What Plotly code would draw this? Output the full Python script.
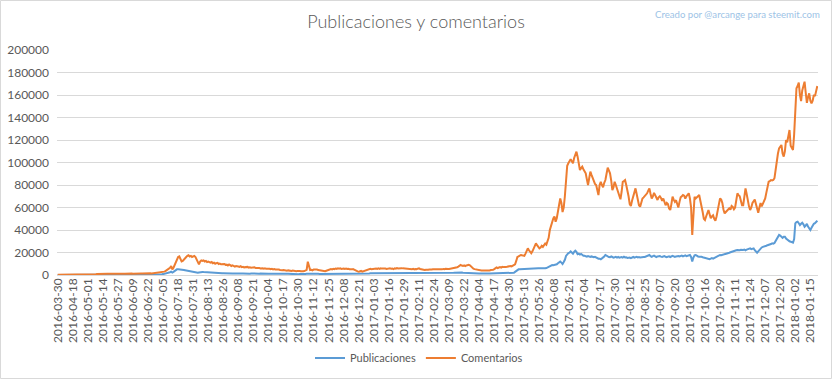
import pandas as pd
import plotly.graph_objects as go

# Category dates (Excel text axis: 2016-03-30, then daily from 2016-04-06)
dates = ["2016-03-30"] + [d.strftime("%Y-%m-%d") for d in pd.date_range("2016-04-06", "2018-01-21")]

tick_labels = [
    "2016-03-30", "2016-04-18", "2016-05-01", "2016-05-14", "2016-05-27", "2016-06-09",
    "2016-06-22", "2016-07-05", "2016-07-18", "2016-07-31", "2016-08-13", "2016-08-26",
    "2016-09-08", "2016-09-21", "2016-10-04", "2016-10-17", "2016-10-30", "2016-11-12",
    "2016-11-25", "2016-12-08", "2016-12-21", "2017-01-03", "2017-01-16", "2017-01-29",
    "2017-02-11", "2017-02-24", "2017-03-09", "2017-03-22", "2017-04-04", "2017-04-17",
    "2017-04-30", "2017-05-13", "2017-05-26", "2017-06-08", "2017-06-21", "2017-07-04",
    "2017-07-17", "2017-07-30", "2017-08-12", "2017-08-25", "2017-09-07", "2017-09-20",
    "2017-10-03", "2017-10-16", "2017-10-29", "2017-11-11", "2017-11-24", "2017-12-07",
    "2017-12-20", "2018-01-02", "2018-01-15",
]

# Comentarios per day (thousands)
comentarios_k = [
    0.2,0.2,0.3,0.2,0.3,0.3,0.2,0.3,0.3,0.4,0.3,0.3,0.4,
    0.4,0.5,0.4,0.5,0.5,0.6,0.5,0.5,0.6,0.5,0.6,0.6,0.5,
    0.6,0.6,0.7,0.6,0.7,0.7,0.8,0.7,0.9,1.0,0.9,1.0,1.0,
    1.0,1.1,1.0,1.1,1.2,1.1,1.0,1.1,1.2,1.1,1.2,1.1,1.2,
    1.1,1.2,1.2,1.1,1.3,1.2,1.2,1.3,1.2,1.3,1.2,1.3,1.3,
    1.2,1.3,1.3,1.2,1.4,1.3,1.3,1.4,1.3,1.4,1.3,1.4,1.4,
    1.3,1.4,1.5,1.4,1.5,1.6,1.5,1.6,1.8,1.9,2.0,2.2,2.4,
    2.5,3.0,3.5,4.2,5.0,5.5,6.5,8.0,5.0,6.5,9.0,12.5,15.0,
    16.0,16.5,14.5,12.0,12.5,14.0,15.0,16.0,17.0,17.5,16.5,17.0,16.0,
    16.5,17.0,16.0,14.0,12.0,9.5,12.0,13.0,12.5,13.0,12.0,12.5,11.5,
    12.0,11.5,11.0,11.5,10.5,11.0,10.0,10.5,10.8,9.8,10.2,9.5,9.8,
    9.5,9.8,9.0,9.2,8.5,9.3,8.8,8.0,8.5,7.8,7.5,8.0,7.4,
    7.5,7.2,7.8,7.0,7.3,6.8,7.1,6.9,7.2,6.6,6.9,6.5,6.7,
    6.5,6.8,6.2,6.4,6.0,6.3,5.8,6.1,5.9,5.6,5.9,5.5,5.7,
    5.4,5.6,5.2,5.5,5.0,5.3,4.9,5.1,4.7,4.9,4.5,4.7,4.3,
    4.4,4.0,4.2,3.8,4.1,3.7,3.9,3.6,3.9,3.5,3.8,3.4,3.6,
    3.2,3.5,3.3,3.6,3.4,3.5,3.7,4.5,11.8,7.0,4.4,4.6,4.2,
    4.8,5.0,4.6,4.9,4.4,4.2,3.8,4.0,3.5,3.2,3.4,3.8,4.2,
    4.6,5.0,5.3,5.0,5.5,5.2,5.8,5.5,6.0,5.6,5.9,5.4,5.7,
    5.8,5.4,5.7,5.3,5.6,5.1,5.4,5.0,5.2,4.6,4.0,3.5,3.2,
    3.0,3.2,3.6,3.0,3.4,4.2,4.6,5.0,5.3,5.1,5.5,5.2,5.4,
    5.6,5.3,5.8,5.4,5.9,5.5,6.0,5.7,5.9,5.5,5.8,5.4,5.7,
    5.6,5.9,5.5,5.8,5.3,5.9,5.6,6.2,5.8,6.0,5.7,6.1,5.9,
    5.8,5.5,5.9,5.4,5.7,5.3,5.6,5.2,5.5,5.0,5.4,5.1,5.6,
    5.9,5.4,5.0,4.6,4.8,4.4,4.7,4.4,4.6,4.9,4.5,4.8,5.0,
    5.0,4.7,5.1,4.8,5.2,4.9,5.3,5.0,5.4,5.1,5.5,5.2,5.3,
    5.3,5.5,5.4,5.8,6.0,6.3,6.5,6.9,7.4,8.2,8.9,8.4,8.0,
    8.6,8.0,8.5,8.8,9.0,8.6,7.4,6.2,5.6,5.2,4.9,4.7,4.5,
    4.4,4.2,4.0,3.9,4.1,3.8,3.9,4.0,3.8,4.1,4.4,4.2,4.6,
    5.2,5.8,6.8,6.2,6.5,7.0,6.6,7.2,7.0,7.4,7.1,7.3,7.6,
    7.8,8.0,7.6,8.2,8.9,9.5,12.5,16.0,16.5,17.0,17.8,17.5,17.0,
    17.0,19.0,22.0,23.7,22.0,20.5,19.3,21.0,24.0,26.0,28.1,26.5,24.5,
    23.7,24.5,26.0,25.0,26.7,28.0,27.0,30.0,33.0,40.0,44.0,47.0,50.3,
    52.0,47.4,50.5,58.0,62.2,68.0,64.0,56.0,60.0,70.0,82.0,97.0,99.3,
    100.7,103.0,101.0,99.3,104.0,108.0,109.6,105.2,100.0,93.3,95.0,96.3,94.0,
    92.0,90.4,85.0,80.0,86.0,91.9,89.0,86.0,84.0,81.0,80.0,75.0,71.1,
    80.0,82.9,80.0,78.0,82.0,84.4,90.0,95.4,93.0,90.4,84.0,75.5,78.0,
    82.9,80.0,77.0,72.0,69.0,67.3,74.0,82.9,83.5,84.4,80.0,76.0,70.0,
    63.0,61.3,66.0,69.6,73.0,77.0,72.0,66.0,62.0,60.7,64.0,68.0,69.0,
    70.0,71.0,72.6,75.0,77.0,72.0,68.0,70.0,73.0,71.0,68.0,66.7,69.0,
    70.0,68.5,66.0,68.0,65.0,62.0,64.0,63.0,59.0,57.8,63.0,69.6,67.0,
    65.0,66.5,62.0,60.0,65.0,69.0,70.0,71.1,70.5,68.0,70.0,71.5,72.6,
    68.0,60.0,35.6,60.0,69.6,68.1,69.0,70.5,71.1,66.0,62.2,56.0,50.0,
    48.9,52.0,55.0,57.8,54.0,50.4,52.0,53.0,50.0,48.3,52.0,57.8,64.0,
    68.1,67.0,64.0,58.0,54.8,56.0,57.0,57.5,59.3,58.0,61.3,60.5,58.5,
    60.0,68.0,72.6,71.0,70.0,66.0,62.0,62.0,70.0,77.0,72.0,65.0,61.0,
    57.8,60.0,64.0,66.0,67.0,63.0,58.0,55.4,60.0,64.0,61.0,64.0,66.0,
    68.0,73.2,78.0,82.9,83.5,84.4,84.0,84.4,86.0,94.0,102.2,108.0,112.6,
    114.0,115.6,108.0,105.2,110.0,120.0,118.0,126.0,128.9,115.0,112.6,111.1,125.0,
    145.0,166.0,168.0,171.0,160.0,154.5,164.0,168.0,171.8,162.0,153.0,158.0,161.5,
    155.0,152.6,155.0,160.0,159.0,163.0,168.0,
]

# Publicaciones per day (thousands)
publicaciones_k = [
    0.1,0.1,0.1,0.2,0.1,0.1,0.2,0.1,0.1,0.2,0.1,0.2,0.2,
    0.2,0.2,0.2,0.2,0.2,0.2,0.2,0.2,0.2,0.2,0.2,0.2,0.2,
    0.2,0.2,0.3,0.2,0.3,0.2,0.3,0.3,0.3,0.3,0.3,0.3,0.3,
    0.3,0.3,0.3,0.3,0.3,0.3,0.3,0.3,0.3,0.3,0.3,0.3,0.3,
    0.3,0.3,0.3,0.3,0.3,0.3,0.3,0.3,0.3,0.3,0.3,0.3,0.3,
    0.3,0.4,0.3,0.4,0.3,0.4,0.4,0.3,0.4,0.4,0.4,0.4,0.4,
    0.4,0.4,0.4,0.4,0.5,0.5,0.5,0.5,0.5,0.6,0.6,0.7,0.7,
    0.8,1.0,1.2,1.5,1.8,2.0,2.5,3.0,2.2,2.8,3.5,4.5,5.0,
    5.0,5.0,4.8,4.6,4.5,4.4,4.2,4.0,3.8,3.5,3.3,3.0,2.8,
    2.6,2.4,2.2,2.0,2.1,2.3,2.6,2.8,2.7,2.6,2.5,2.4,2.3,
    2.2,2.1,2.0,2.0,1.9,1.8,1.8,1.7,1.7,1.6,1.6,1.5,1.5,
    1.5,1.4,1.4,1.3,1.4,1.3,1.4,1.3,1.3,1.4,1.3,1.3,1.3,
    1.3,1.3,1.4,1.3,1.3,1.2,1.3,1.3,1.2,1.3,1.2,1.3,1.2,
    1.3,1.2,1.2,1.3,1.2,1.2,1.3,1.2,1.2,1.2,1.3,1.2,1.2,
    1.2,1.2,1.1,1.2,1.1,1.2,1.1,1.1,1.2,1.1,1.1,1.1,1.1,
    1.1,1.1,1.0,1.0,1.0,0.9,0.9,0.9,0.8,0.8,0.8,0.7,0.7,
    0.7,0.8,0.7,0.8,0.9,0.8,0.9,1.0,1.2,1.1,1.0,1.0,1.1,
    1.0,1.0,1.1,1.0,1.0,0.9,0.9,0.8,0.8,0.9,0.9,1.0,1.0,
    1.1,1.1,1.2,1.2,1.2,1.3,1.2,1.3,1.3,1.2,1.3,1.3,1.2,
    1.3,1.3,1.2,1.3,1.3,1.2,1.3,1.2,1.2,1.1,1.1,1.0,1.0,
    1.0,1.1,1.1,1.0,1.2,1.3,1.3,1.4,1.4,1.4,1.5,1.5,1.4,
    1.5,1.5,1.4,1.5,1.5,1.6,1.5,1.5,1.4,1.5,1.5,1.4,1.5,
    1.5,1.5,1.4,1.5,1.5,1.5,1.4,1.5,1.6,1.5,1.5,1.5,1.4,
    1.5,1.4,1.5,1.5,1.4,1.5,1.5,1.4,1.4,1.5,1.4,1.4,1.5,
    1.5,1.4,1.4,1.4,1.3,1.4,1.4,1.3,1.4,1.4,1.4,1.5,1.5,
    1.5,1.5,1.6,1.6,1.5,1.6,1.6,1.6,1.7,1.6,1.7,1.6,1.7,
    1.7,1.7,1.8,1.8,1.9,2.0,2.1,2.3,2.5,2.7,2.6,2.3,2.1,
    2.0,2.1,1.9,1.8,1.8,1.7,1.7,1.6,1.6,1.5,1.5,1.5,1.4,
    1.4,1.4,1.3,1.3,1.3,1.3,1.3,1.3,1.3,1.4,1.4,1.4,1.4,
    1.4,1.5,1.4,1.5,1.5,1.4,1.5,1.5,1.5,1.6,1.5,1.6,1.6,
    1.6,1.7,1.7,1.8,2.0,2.8,3.8,4.5,5.0,5.0,5.1,5.0,5.1,
    5.2,5.3,5.4,5.5,5.6,5.7,5.7,5.9,5.8,5.9,6.0,5.8,5.9,
    5.9,5.8,5.9,6.0,5.9,6.0,6.2,6.8,7.5,8.0,8.5,8.9,8.7,
    8.9,9.0,9.5,10.5,11.5,11.9,11.0,9.8,11.5,13.5,17.0,18.5,19.5,
    19.8,21.0,20.0,19.0,20.5,21.6,20.5,18.5,19.0,18.2,18.8,17.5,17.0,
    17.0,16.6,16.3,16.8,16.3,16.0,16.5,16.2,15.8,16.2,15.5,15.0,14.5,
    14.5,14.0,14.8,15.5,16.5,17.8,17.0,16.5,16.0,15.8,16.5,16.0,15.5,
    15.8,16.2,15.5,16.0,15.4,15.8,16.0,15.5,16.2,15.6,15.8,15.2,15.6,
    15.5,15.0,15.7,16.0,15.4,15.8,16.2,15.7,16.0,15.5,15.8,16.2,16.0,
    16.0,16.5,17.0,17.5,17.8,16.8,16.2,16.8,17.2,16.6,16.0,16.5,17.0,
    16.8,16.3,16.0,16.5,16.8,16.2,15.8,16.3,16.6,16.0,16.4,17.0,16.5,
    16.0,16.5,17.0,16.8,16.4,16.8,17.2,16.6,16.9,17.4,16.8,17.0,17.5,
    17.8,16.0,12.0,15.5,17.5,17.8,17.0,16.5,16.3,16.6,16.2,15.8,15.5,
    15.2,15.0,14.5,14.2,14.0,14.5,15.0,14.6,15.2,15.8,16.5,17.2,17.8,
    17.8,17.5,17.8,18.2,17.9,18.5,19.0,19.5,19.8,20.2,20.7,20.5,21.0,
    21.5,22.0,22.2,21.8,22.0,22.4,22.0,22.3,22.6,22.0,22.5,23.0,23.3,
    23.7,23.0,23.5,23.7,22.0,20.5,19.8,21.0,22.5,23.5,24.5,25.0,25.2,
    25.5,26.0,26.5,26.7,27.0,27.5,28.1,27.8,28.5,30.0,32.6,34.0,35.6,
    35.0,33.5,33.0,34.0,34.0,32.5,31.5,30.5,30.0,29.6,29.0,28.7,32.0,
    45.9,47.0,47.4,46.0,44.4,45.5,46.5,45.0,42.9,44.0,45.5,43.0,41.5,
    40.0,42.0,44.0,45.5,46.0,47.0,48.3,
]

publicaciones = [v * 1000 for v in publicaciones_k]
comentarios = [v * 1000 for v in comentarios_k]

FONT = "Lato"
GRAY = "#595959"

fig = go.Figure()
fig.add_trace(go.Scatter(x=dates, y=publicaciones, mode="lines", name="Publicaciones",
                         line=dict(color="#5B9BD5", width=2)))
fig.add_trace(go.Scatter(x=dates, y=comentarios, mode="lines", name="Comentarios",
                         line=dict(color="#ED7D31", width=2)))

W, H = 832, 379
L, R, T, B = 57, 14, 50, 104
pw, ph = W - L - R, H - T - B

def px2paper(x, y):
    return (x - L) / pw, (H - B - y) / ph

x0, y0 = px2paper(0.5, 378.5)
x1, y1 = px2paper(831.5, 0.5)

fig.update_layout(
    template="none",
    width=W, height=H,
    margin=dict(l=L, r=R, t=T, b=B, pad=0, autoexpand=False),
    paper_bgcolor="white", plot_bgcolor="white",
    font=dict(family=FONT, color=GRAY, size=12),
    title=dict(text="Publicaciones y comentarios", x=416 / W, xanchor="center",
               xref="container", y=1 - 22 / H, yanchor="middle", yref="container",
               font=dict(family=FONT, size=18, color=GRAY, weight=300)),
    xaxis=dict(type="category", range=[-0.6, len(dates) - 1 + 0.6], automargin=False,
               tickmode="array", tickvals=tick_labels, ticktext=tick_labels,
               tickangle=-90, showgrid=False, zeroline=False, showline=False,
               ticks="", tickfont=dict(family=FONT, size=12, color=GRAY)),
    yaxis=dict(range=[0, 200000], dtick=20000, tickformat="d", automargin=False,
               showgrid=True, gridcolor="#D9D9D9", gridwidth=1,
               zeroline=True, zerolinecolor="#D9D9D9", zerolinewidth=1,
               showline=False, ticks="", ticklabelstandoff=7,
               tickfont=dict(family=FONT, size=12, color=GRAY)),
    legend=dict(orientation="h", x=(419 - L) / pw, xanchor="center",
                y=(H - B - 358) / ph, yanchor="middle",
                font=dict(family=FONT, size=11, color=GRAY),
                bgcolor="rgba(0,0,0,0)", borderwidth=0),
    showlegend=True,
    annotations=[dict(text="Creado por @arcange para steemit.com", xref="paper", yref="paper",
                      x=(822 - L) / pw, y=(H - B - 14) / ph, xanchor="right", yanchor="middle",
                      showarrow=False, font=dict(family=FONT, size=9.6, color="#9DC3E6"))],
    shapes=[dict(type="rect", xref="paper", yref="paper", x0=x0, y0=y0, x1=x1, y1=y1,
                 line=dict(color="#D9D9D9", width=1), layer="below")],
)

fig.write_html("out.html", config={"displayModeBar": False},
               post_script="document.body.style.margin='0';document.body.style.overflow='hidden';")
